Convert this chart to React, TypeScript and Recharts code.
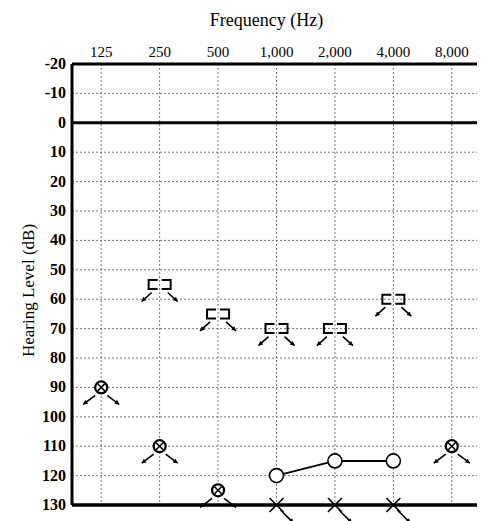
import React from 'react';
import { ScatterChart, Scatter, XAxis, YAxis, CartesianGrid, ReferenceLine } from 'recharts';

// audiogram frequencies (plotted by index, one band per octave)
const freqLabels = ['125', '250', '500', '1,000', '2,000', '4,000', '8,000'];
const freqIdx = [0, 1, 2, 3, 4, 5, 6];
const levelTicks = [-20, -10, 0, 10, 20, 30, 40, 50, 60, 70, 80, 90, 100, 110, 120, 130];

// masked bone conduction, no response  [ ]
const bracketIdx = [1, 2, 3, 4, 5];
const bracketDb = [55, 65, 70, 70, 60];

// circle-cross, no response
const crossCircleIdx = [0, 1, 2, 6];
const crossCircleDb = [90, 110, 125, 110];

// air conduction right ear (connected circles)
const circleIdx = [3, 4, 5];
const circleDb = [120, 115, 115];

// air conduction left ear, no response
const crossIdx = [3, 4, 5];
const crossDb = [130, 130, 130];

const toPoints = (xs: number[], ys: number[]) => xs.map((x, i) => ({ x, y: ys[i] }));

const FONT = '"Liberation Serif", "Times New Roman", serif';

const Arrow = ({ x1, y1, x2, y2 }: { x1: number; y1: number; x2: number; y2: number }) => {
  const a = Math.atan2(y2 - y1, x2 - x1);
  const h = 5;
  const p1 = [x2 - h * Math.cos(a - 0.5), y2 - h * Math.sin(a - 0.5)];
  const p2 = [x2 - h * Math.cos(a + 0.5), y2 - h * Math.sin(a + 0.5)];
  return (
    <g>
      <line x1={x1} y1={y1} x2={x2} y2={y2} stroke="#000" strokeWidth={1.6} />
      <polygon points={`${x2},${y2} ${p1[0]},${p1[1]} ${p2[0]},${p2[1]}`} fill="#000" />
    </g>
  );
};

const BracketShape = (props: any) => {
  const { cx, cy } = props;
  return (
    <g>
      <path
        d={`M${cx - 2},${cy - 4.5} H${cx - 11} V${cy + 4.5} H${cx - 2}`}
        fill="none"
        stroke="#000"
        strokeWidth={2}
      />
      <path
        d={`M${cx + 2},${cy - 4.5} H${cx + 11} V${cy + 4.5} H${cx + 2}`}
        fill="none"
        stroke="#000"
        strokeWidth={2}
      />
      <Arrow x1={cx - 8} y1={cy + 8} x2={cx - 18} y2={cy + 17} />
      <Arrow x1={cx + 8} y1={cy + 8} x2={cx + 18} y2={cy + 17} />
    </g>
  );
};

const CrossCircleShape = (props: any) => {
  const { cx, cy } = props;
  const d = 3.5;
  return (
    <g>
      <circle cx={cx} cy={cy} r={6} fill="#fff" stroke="#000" strokeWidth={2.2} />
      <line x1={cx - d} y1={cy - d} x2={cx + d} y2={cy + d} stroke="#000" strokeWidth={1.6} />
      <line x1={cx - d} y1={cy + d} x2={cx + d} y2={cy - d} stroke="#000" strokeWidth={1.6} />
      <Arrow x1={cx - 6} y1={cy + 8} x2={cx - 18} y2={cy + 17} />
      <Arrow x1={cx + 6} y1={cy + 8} x2={cx + 18} y2={cy + 17} />
    </g>
  );
};

const CircleShape = (props: any) => {
  const { cx, cy } = props;
  return <circle cx={cx} cy={cy} r={7} fill="#fff" stroke="#000" strokeWidth={1.6} />;
};

const CrossShape = (props: any) => {
  const { cx, cy } = props;
  const d = 7;
  return (
    <g>
      <line x1={cx - d} y1={cy - d} x2={cx + d} y2={cy + d} stroke="#000" strokeWidth={1.6} />
      <line x1={cx - d} y1={cy + d} x2={cx + d} y2={cy - d} stroke="#000" strokeWidth={1.6} />
      <Arrow x1={cx + 4} y1={cy + 5} x2={cx + 17} y2={cy + 18} />
    </g>
  );
};

const FreqTick = (props: any) => {
  const { x, y, payload } = props;
  return (
    <text x={x} y={y} textAnchor="middle" fontFamily={FONT} fontSize={15} fill="#000">
      {freqLabels[payload.value]}
    </text>
  );
};

const LevelTick = (props: any) => {
  const { x, y, payload } = props;
  return (
    <text x={x} y={y + 5} textAnchor="end" fontFamily={FONT} fontSize={16} fontWeight="bold" fill="#000">
      {payload.value}
    </text>
  );
};

const XTitle = (props: any) => {
  const { viewBox } = props;
  const cx = viewBox.x + viewBox.width / 2 - 10;
  return (
    <text x={cx} y={18} textAnchor="middle" fontFamily={FONT} fontSize={18} fill="#000">
      Frequency (Hz)
    </text>
  );
};

const YTitle = (props: any) => {
  const { viewBox } = props;
  const cy = viewBox.y + viewBox.height / 2 + 6;
  const x = 26;
  return (
    <text
      x={x}
      y={cy}
      transform={`rotate(-90, ${x}, ${cy})`}
      textAnchor="middle"
      fontFamily={FONT}
      fontSize={17}
      fill="#000"
    >
      Hearing Level (dB)
    </text>
  );
};

export default function App() {
  return (
    <div style={{ width: 477, height: 513 }}>
      <ScatterChart width={477} height={513} margin={{ top: 0, right: 4, bottom: 16, left: 0 }}>
        <CartesianGrid stroke="#777" strokeDasharray="2 2" strokeWidth={1} />
        <XAxis
          type="number"
          dataKey="x"
          orientation="top"
          domain={[-0.5, 6.5]}
          ticks={freqIdx}
          height={56}
          axisLine={false}
          tickLine={false}
          tickSize={0}
          tickMargin={7}
          interval={0}
          tick={<FreqTick />}
          label={XTitle}
        />
        <YAxis
          type="number"
          dataKey="y"
          reversed
          domain={[-20, 130]}
          ticks={levelTicks}
          width={64}
          axisLine={false}
          tickLine={false}
          tickSize={0}
          tickMargin={6}
          interval={0}
          tick={<LevelTick />}
          label={YTitle}
        />
        <ReferenceLine y={0} stroke="#000" strokeWidth={3} />
        <ReferenceLine y={-20} stroke="#000" strokeWidth={3} />
        <ReferenceLine y={130} stroke="#000" strokeWidth={3.5} />
        <ReferenceLine x={-0.5} stroke="#000" strokeWidth={3} />
        <ReferenceLine x={6.5} stroke="#000" strokeWidth={1.5} />
        <Scatter data={toPoints(bracketIdx, bracketDb)} shape={BracketShape} isAnimationActive={false} />
        <Scatter data={toPoints(crossCircleIdx, crossCircleDb)} shape={CrossCircleShape} isAnimationActive={false} />
        <Scatter data={toPoints(crossIdx, crossDb)} shape={CrossShape} isAnimationActive={false} />
        <Scatter
          data={toPoints(circleIdx, circleDb)}
          shape={CircleShape}
          line={{ stroke: '#000', strokeWidth: 2 }}
          isAnimationActive={false}
        />
      </ScatterChart>
    </div>
  );
}
